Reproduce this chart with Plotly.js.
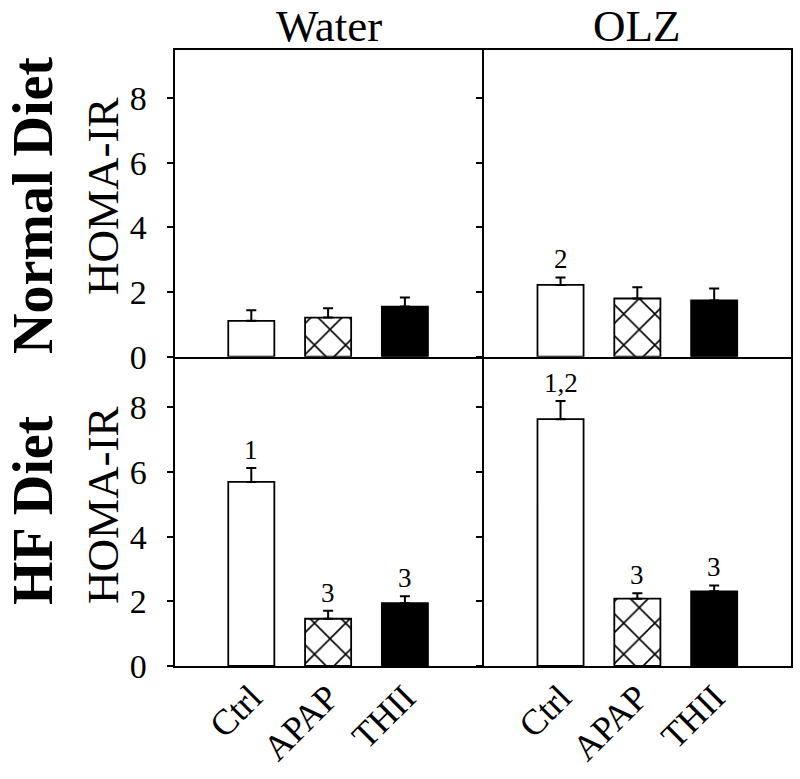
<!DOCTYPE html>
<html>
<head>
<meta charset="utf-8">
<script src="https://cdn.plot.ly/plotly-3.0.1.min.js"></script>
<style>html,body{margin:0;padding:0;background:#fff;}#chart{width:800px;height:779px;}</style>
</head>
<body>
<div id="chart"></div>
<script>
// ---- data ----
const categories = ['Ctrl', 'APAP', 'THII'];
const normalWater = [1.11, 1.21, 1.55];
const normalWaterErr = [0.33, 0.29, 0.28];
const normalOLZ = [2.22, 1.80, 1.74];
const normalOLZErr = [0.23, 0.35, 0.37];
const hfWater = [5.69, 1.46, 1.94];
const hfWaterErr = [0.43, 0.25, 0.22];
const hfOLZ = [7.63, 2.08, 2.31];
const hfOLZErr = [0.56, 0.17, 0.18];
const normalWaterSig = ['', '', ''];
const normalOLZSig = ['2', '', ''];
const hfWaterSig = ['1', '3', '3'];
const hfOLZSig = ['1,2', '3', '3'];
const yTicks = [0, 2, 4, 6, 8];
const colTitles = ['Water', 'OLZ'];
const rowTitles = ['Normal Diet', 'HF Diet'];
const yTitle = 'HOMA-IR';

// ---- style ----
const FONT = 'Liberation Serif';
const W = 800, H = 779;
const px = v => v / W;
const py = v => (H - v) / H;
const barStyles = [
  {color: 'white', pattern: null},
  {color: 'white', pattern: {shape: 'x', fgcolor: 'black', bgcolor: 'white', fgopacity: 1,
                             size: 22, solidity: 0.14, fillmode: 'replace'}},
  {color: 'black', pattern: null}
];

const data = [];
function addPanel(vals, errs, xa, ya) {
  categories.forEach((c, i) => {
    const marker = {color: barStyles[i].color, line: {color: 'black', width: 1.8}};
    if (barStyles[i].pattern) marker.pattern = barStyles[i].pattern;
    data.push({
      type: 'bar', x: [c], y: [vals[i]], xaxis: xa, yaxis: ya,
      width: 0.6, marker: marker,
      error_y: {type: 'data', symmetric: false, array: [errs[i]], arrayminus: [0],
                color: 'black', thickness: 2, width: 5},
      showlegend: false, hoverinfo: 'skip'
    });
  });
}
addPanel(normalWater, normalWaterErr, 'x', 'y');
addPanel(normalOLZ, normalOLZErr, 'x2', 'y2');
addPanel(hfWater, hfWaterErr, 'x3', 'y3');
addPanel(hfOLZ, hfOLZErr, 'x4', 'y4');

// domains: axis lines are drawn half a line width outside the domain,
// so neighbouring panels are separated by 2px to let their lines coincide
const xLeft = [px(174.5), px(481.7)];
const xRight = [px(483.7), px(791)];
const yTop = [py(356.7), py(49.5)];
const yBot = [py(666), py(358.7)];

function xAxis(domain, anchor, showLabels) {
  return {
    domain: domain, anchor: anchor, type: 'category', range: [-1, 3],
    categoryorder: 'array', categoryarray: categories,
    showline: true, mirror: true, linecolor: 'black', linewidth: 2,
    showgrid: false, zeroline: false, ticks: '',
    showticklabels: showLabels, tickangle: -45, ticklabelstandoff: -6,
    tickfont: {family: FONT, size: 36, color: 'black'}
  };
}
function yAxis(domain, anchor, showLabels) {
  return {
    domain: domain, anchor: anchor, range: [0, 9.5],
    showline: true, mirror: true, linecolor: 'black', linewidth: 2,
    showgrid: false, zeroline: false,
    tickvals: yTicks, ticks: 'outside', ticklen: 6, tickwidth: 2, tickcolor: 'black',
    showticklabels: showLabels, ticklabelstandoff: 13,
    tickfont: {family: FONT, size: 34, color: 'black'}
  };
}

const annotations = [];
function sigLabels(vals, errs, sig, xa, ya) {
  sig.forEach((s, i) => {
    if (!s) return;
    annotations.push({
      xref: xa, yref: ya, x: categories[i], y: vals[i] + errs[i],
      text: s, showarrow: false, yanchor: 'bottom', yshift: 1,
      font: {family: FONT, size: 27, color: 'black'}
    });
  });
}
sigLabels(normalWater, normalWaterErr, normalWaterSig, 'x', 'y');
sigLabels(normalOLZ, normalOLZErr, normalOLZSig, 'x2', 'y2');
sigLabels(hfWater, hfWaterErr, hfWaterSig, 'x3', 'y3');
sigLabels(hfOLZ, hfOLZErr, hfOLZSig, 'x4', 'y4');

// column titles
[[colTitles[0], (174.5 + 482.7) / 2], [colTitles[1], (482.7 + 791) / 2]].forEach(([t, cx]) => {
  annotations.push({xref: 'paper', yref: 'paper', x: px(cx), y: py(26), text: t,
    showarrow: false, xanchor: 'center', yanchor: 'middle',
    font: {family: FONT, size: 45, color: 'black'}});
});
// row titles
[[rowTitles[0], 206], [rowTitles[1], 510]].forEach(([t, cy]) => {
  annotations.push({xref: 'paper', yref: 'paper', x: 0, y: py(cy), text: '<b>' + t + '</b>',
    showarrow: false, xanchor: 'left', yanchor: 'middle', textangle: -90,
    font: {family: FONT, size: 56, color: 'black'}});
});
// y titles
[196, 505].forEach(cy => {
  annotations.push({xref: 'paper', yref: 'paper', x: px(103), y: py(cy), text: yTitle,
    showarrow: false, xanchor: 'center', yanchor: 'middle', textangle: -90,
    font: {family: FONT, size: 45, color: 'black'}});
});

const layout = {
  width: W, height: H,
  margin: {l: 0, r: 0, t: 0, b: 0},
  paper_bgcolor: 'white', plot_bgcolor: 'white',
  barmode: 'overlay',
  xaxis: xAxis(xLeft, 'y', false),
  yaxis: yAxis(yTop, 'x', true),
  xaxis2: xAxis(xRight, 'y2', false),
  yaxis2: yAxis(yTop, 'x2', false),
  xaxis3: xAxis(xLeft, 'y3', true),
  yaxis3: yAxis(yBot, 'x3', true),
  xaxis4: xAxis(xRight, 'y4', true),
  yaxis4: yAxis(yBot, 'x4', false),
  annotations: annotations
};

Plotly.newPlot('chart', data, layout, {staticPlot: true, displayModeBar: false});
</script>
</body>
</html>
